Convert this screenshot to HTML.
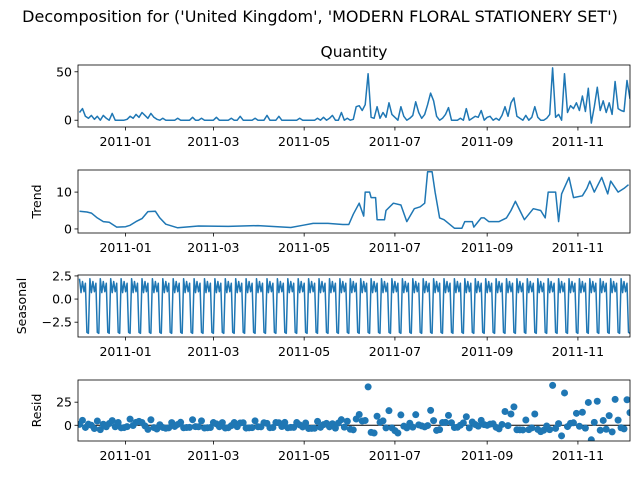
<!DOCTYPE html>
<html><head><meta charset="utf-8"><style>
body{margin:0;background:#fff}
svg text{font-family:"DejaVu Sans","Liberation Sans",sans-serif;fill:#000}
</style></head><body>
<svg id="c" width="640" height="480" xmlns="http://www.w3.org/2000/svg">
<text x="320" y="22" font-size="16" text-anchor="middle">Decomposition for ('United Kingdom', 'MODERN FLORAL STATIONERY SET')</text>
</svg>
<script>
// x-axis: days since 2010-12-01
const xTickLabels = ["2011-01","2011-03","2011-05","2011-07","2011-09","2011-11"];
const xTickDays = [31,90,151,212,274,335];
// Quantity, every 2 days starting day 0
const qValues = [8,12,4,2,5,1,4,0,5,2,0,7,0,0,0,0,1,4,2,6,3,8,5,2,7,3,1,0,2,
0,0,0,0,2,0,0,0,0,3,
0,0,2,0,0,0,0,3,0,0,
0,0,2,0,0,4,0,0,0,0,
2,0,0,0,5,0,0,0,4,0,
0,0,0,0,0,2,0,0,0,
0,0,2,0,3,0,2,5,0,0,8,0,2,0,1,
14,15,10,16,48,3,2,14,2,8,3,18,6,3,0,14,4,0,2,5,19,8,2,6,16,28,20,4,0,2,6,13,0,0,0,2,0,12,0,2,4,3,10,0,3,4,0,2,0,5,14,4,18,23,4,2,0,5,0,3,14,3,0,0,2,6,54,3,6,0,48,
8,15,12,18,10,25,9,33,-3,14,34,10,20,8,18,6,40,12,10,9,41,22];
// Trend keypoints
const trendDays = [0,5,8,12,16,20,25,31,34,38,42,46,51,54,58,66,80,100,120,142,150,157,167,177,181,184,188,191,192,195,196,199,200,205,206,211,216,220,225,229,232,234,237,239,242,245,252,257,259,264,265,270,272,275,282,287,290,293,296,299,305,310,313,315,320,322,324,329,332,338,341,343,346,351,355,357,362,366,369];
const trendValues = [4.8,4.6,4.3,3,2,1.8,0.5,0.6,1,2,2.8,4.7,4.8,3,1.3,0.3,0.8,0.7,0.9,0.4,1,1.5,1.5,1.2,1.2,4,7,3.5,10,10,8.5,8.5,2.5,2.5,5,7,6.5,2,5.5,6,7,15.5,15.5,10,3,2.5,0.2,0.2,2,2,0.5,3,3,2,2,3,5,7.5,5,2.5,5.5,5,3,10,10,2,9.5,14,8.5,9,11,13,10,14,9.5,13,10,11,12];
// Weekly seasonal pattern
const seasonalPattern = [2.2,0.7,1.9,0.8,1.7,-3.6,-3.7];

const svg=document.getElementById('c');
const NS="http://www.w3.org/2000/svg";
const X0=78,X1=630,D0=-1,D1=370;
const xs=d=>X0+(d-D0)/(D1-D0)*(X1-X0);
function mk(t,a){const e=document.createElementNS(NS,t);for(const k in a)e.setAttribute(k,a[k]);svg.appendChild(e);return e;}
function trendAt(d){for(let i=1;i<trendDays.length;i++){if(d<=trendDays[i]){const a=trendDays[i-1],b=trendDays[i];const t=(d-a)/(b-a);return trendValues[i-1]+(trendValues[i]-trendValues[i-1])*t;}}return trendValues[trendValues.length-1];}
const panels=[
 {top:65,bot:127,ymin:-7,ymax:57,ticks:[0,50],label:null,name:'quantity'},
 {top:170,bot:233,ymin:-1.1,ymax:16,ticks:[0,10],label:'Trend',name:'trend'},
 {top:275,bot:337,ymin:-4.1,ymax:2.6,ticks:[-2.5,0,2.5],tl:['−2.5','0.0','2.5'],label:'Seasonal',name:'seasonal'},
 {top:380,bot:441,ymin:-17,ymax:49,ticks:[0,25],label:'Resid',name:'resid'}];
panels.forEach((p,pi)=>{
 p.ys=v=>p.bot-(v-p.ymin)/(p.ymax-p.ymin)*(p.bot-p.top);
 const cp=mk('clipPath',{id:'cp'+pi});const r=document.createElementNS(NS,'rect');
 r.setAttribute('x',X0);r.setAttribute('y',p.top);r.setAttribute('width',X1-X0);r.setAttribute('height',p.bot-p.top);cp.appendChild(r);
 p.g=mk('g',{'clip-path':'url(#cp'+pi+')'});
 
 
 xTickDays.forEach((d,i)=>{
  const x=xs(d);
  mk('line',{x1:x,x2:x,y1:p.bot,y2:p.bot+3.5,stroke:'#000','stroke-width':0.8});
  const t=mk('text',{x:x,y:p.bot+19,'font-size':12.5,'text-anchor':'middle'});t.textContent=xTickLabels[i];
  
  
 });
 p.ticks.forEach((v,i)=>{
  const y=p.ys(v);
  mk('line',{x1:X0-3.5,x2:X0,y1:y,y2:y,stroke:'#000','stroke-width':0.8});
  const t=mk('text',{x:X0-6,y:y+4.5,'font-size':12.5,'text-anchor':'end'});t.textContent=p.tl?p.tl[i]:String(v);
  
  
 });
 if(p.label){const cy=(p.top+p.bot)/2;const lx=p.label==='Seasonal'?26:41;const t=mk('text',{x:0,y:0,'font-size':12.5,'text-anchor':'middle',transform:`translate(${lx},${cy}) rotate(-90)`});t.textContent=p.label;
  
  }
});
function line(p,pts){const l=document.createElementNS(NS,'polyline');l.setAttribute('points',pts.map(q=>xs(q[0]).toFixed(1)+','+p.ys(q[1]).toFixed(1)).join(' '));l.setAttribute('fill','none');l.setAttribute('stroke','#1f77b4');l.setAttribute('stroke-width',1.5);l.setAttribute('stroke-linejoin','round');p.g.appendChild(l);return l;}
const ql=line(panels[0],qValues.map((v,i)=>[2*i,v]));


const tl=line(panels[1],trendDays.map((d,i)=>[d,trendValues[i]]));


const sp=[];for(let d=0;d<=370;d++)sp.push([d,seasonalPattern[d%7]]);
const sl=line(panels[2],sp);


const rp=panels[3];
const z=document.createElementNS(NS,'line');z.setAttribute('x1',X0);z.setAttribute('x2',X1);z.setAttribute('y1',rp.ys(0));z.setAttribute('y2',rp.ys(0));z.setAttribute('stroke','#000');z.setAttribute('stroke-width',1);rp.g.appendChild(z);
qValues.forEach((v,i)=>{const d=2*i;const r=v-trendAt(d)-seasonalPattern[d%7];
 const c=document.createElementNS(NS,'circle');c.setAttribute('cx',xs(d));c.setAttribute('cy',rp.ys(r));c.setAttribute('r',3.5);c.setAttribute('fill','#1f77b4');
 
 
 rp.g.appendChild(c);});
panels.forEach(p=>{const b=mk('rect',{x:X0,y:p.top,width:X1-X0,height:p.bot-p.top,fill:'none',stroke:'#000','stroke-width':0.8});
 
 });
const qt=mk('text',{x:(X0+X1)/2,y:57,'font-size':15.5,'text-anchor':'middle'});qt.textContent='Quantity';


</script>
</body></html>
